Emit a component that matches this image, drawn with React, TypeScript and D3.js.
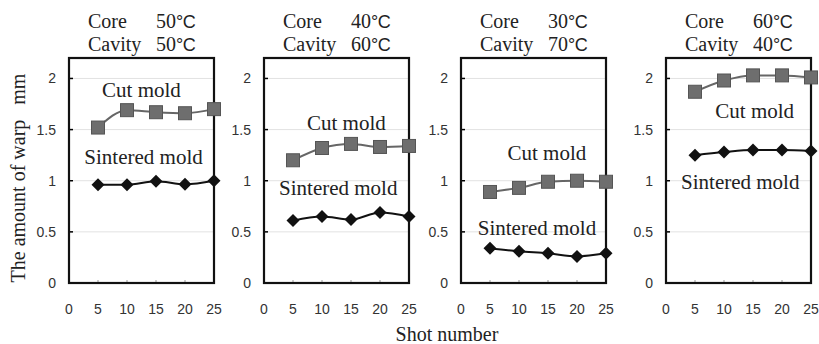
import React from "react";
import * as d3 from "d3";

const shots = [5, 10, 15, 20, 25];
const xTicks = [0, 5, 10, 15, 20, 25];
const yTicks = [0, 0.5, 1, 1.5, 2];
const coreTemps = ["50", "40", "30", "60"];
const cavityTemps = ["50", "60", "70", "40"];
const cutMold = [
  [1.52, 1.69, 1.67, 1.66, 1.7],
  [1.2, 1.32, 1.36, 1.33, 1.34],
  [0.89, 0.93, 0.99, 1.0, 0.99],
  [1.87, 1.98, 2.03, 2.03, 2.01],
];
const sinteredMold = [
  [0.96, 0.96, 0.995, 0.965, 1.0],
  [0.61, 0.65, 0.62, 0.69, 0.65],
  [0.34, 0.31, 0.29, 0.26, 0.29],
  [1.25, 1.28, 1.3, 1.3, 1.29],
];
// label anchors in data coordinates [x, y]
const cutLabelAt = [[12.5, 1.82], [14.2, 1.5], [14.8, 1.2], [15.3, 1.61]];
const sintLabelAt = [[12.85, 1.16], [12.8, 0.86], [13.1, 0.47], [12.8, 0.92]];

const panelLefts = [69, 264, 461, 666];
const panelW = 145;
const top = 58;
const bottom = 283;

const serif = "'Liberation Serif', 'Times New Roman', serif";
const sans = "'Liberation Sans', Arial, sans-serif";

function Panel({ i }: { i: number }) {
  const left = panelLefts[i];
  const x = d3.scaleLinear().domain([0, 25]).range([left, left + panelW]);
  const y = d3.scaleLinear().domain([0, 2.2]).range([bottom, top]);
  const line = d3
    .line<number>()
    .x((_, k) => x(shots[k]))
    .y((v) => y(v))
    .curve(d3.curveMonotoneX);
  const diamond = (cx: number, cy: number, r: number) =>
    `M${cx},${cy - r}L${cx + r},${cy}L${cx},${cy + r}L${cx - r},${cy}Z`;
  return (
    <g>
      {yTicks.slice(1).map((t) => (
        <line key={"g" + t} x1={left} x2={left + panelW} y1={y(t)} y2={y(t)} stroke="#e2e2e2" strokeWidth={1} />
      ))}
      {yTicks.map((t) => (
        <line key={"yt" + t} x1={left} x2={left + 4} y1={y(t)} y2={y(t)} stroke="#000" strokeWidth={1.5} />
      ))}
      {xTicks.map((t) => (
        <line key={"xt" + t} x1={x(t)} x2={x(t)} y1={bottom} y2={bottom - 3} stroke="#999" strokeWidth={1} />
      ))}
      <rect x={left} y={top} width={panelW} height={bottom - top} fill="none" stroke="#111" strokeWidth={2.2} />
      {yTicks.map((t) => (
        <text key={"yl" + t} x={left - 13} y={y(t) + 5} textAnchor="end" fontFamily={sans} fontSize={14} fill="#333">
          {String(t)}
        </text>
      ))}
      {xTicks.map((t) => (
        <text key={"xl" + t} x={x(t)} y={314} textAnchor="middle" fontFamily={sans} fontSize={14} fill="#333">
          {String(t)}
        </text>
      ))}
      <text x={left + 19} y={28} fontFamily={serif} fontSize={20} fill="#222">Core</text>
      <text x={left + 87} y={28} fontFamily={serif} fontSize={20} fill="#222">
        {coreTemps[i]}
        <tspan fontFamily={sans} fontSize={18} letterSpacing={-0.5}>°C</tspan>
      </text>
      <text x={left + 19} y={51} fontFamily={serif} fontSize={20} fill="#222">Cavity</text>
      <text x={left + 87} y={51} fontFamily={serif} fontSize={20} fill="#222">
        {cavityTemps[i]}
        <tspan fontFamily={sans} fontSize={18} letterSpacing={-0.5}>°C</tspan>
      </text>
      <path d={line(cutMold[i]) || ""} fill="none" stroke="#666" strokeWidth={2} />
      <path d={line(sinteredMold[i]) || ""} fill="none" stroke="#111" strokeWidth={2} />
      {cutMold[i].map((v, k) => (
        <rect key={"c" + k} x={x(shots[k]) - 6.5} y={y(v) - 6.5} width={13} height={13} fill="#6e6e6e" stroke="#555" strokeWidth={1} />
      ))}
      {sinteredMold[i].map((v, k) => (
        <path key={"s" + k} d={diamond(x(shots[k]), y(v), 6.5)} fill="#111" />
      ))}
      <text x={x(cutLabelAt[i][0])} y={y(cutLabelAt[i][1])} textAnchor="middle" fontFamily={serif} fontSize={21} fill="#222">
        Cut mold
      </text>
      <text x={x(sintLabelAt[i][0])} y={y(sintLabelAt[i][1])} textAnchor="middle" fontFamily={serif} fontSize={21} fill="#222">
        Sintered mold
      </text>
    </g>
  );
}

export default function App() {
  return (
    <svg width={819} height={344} style={{ position: "absolute", left: 0, top: 0, background: "#fff" }}>
      <rect width={819} height={344} fill="#fff" />
      {panelLefts.map((_, i) => (
        <Panel key={i} i={i} />
      ))}
      <text
        transform="translate(25,178) rotate(-90)"
        textAnchor="middle"
        fontFamily={serif}
        fontSize={20}
        fill="#222"
        style={{ whiteSpace: "pre" }}
      >
        The amount of warp{"\u00a0\u00a0\u00a0"}mm
      </text>
      <text x={447} y={341} textAnchor="middle" fontFamily={serif} fontSize={20} fill="#222">
        Shot number
      </text>
    </svg>
  );
}
